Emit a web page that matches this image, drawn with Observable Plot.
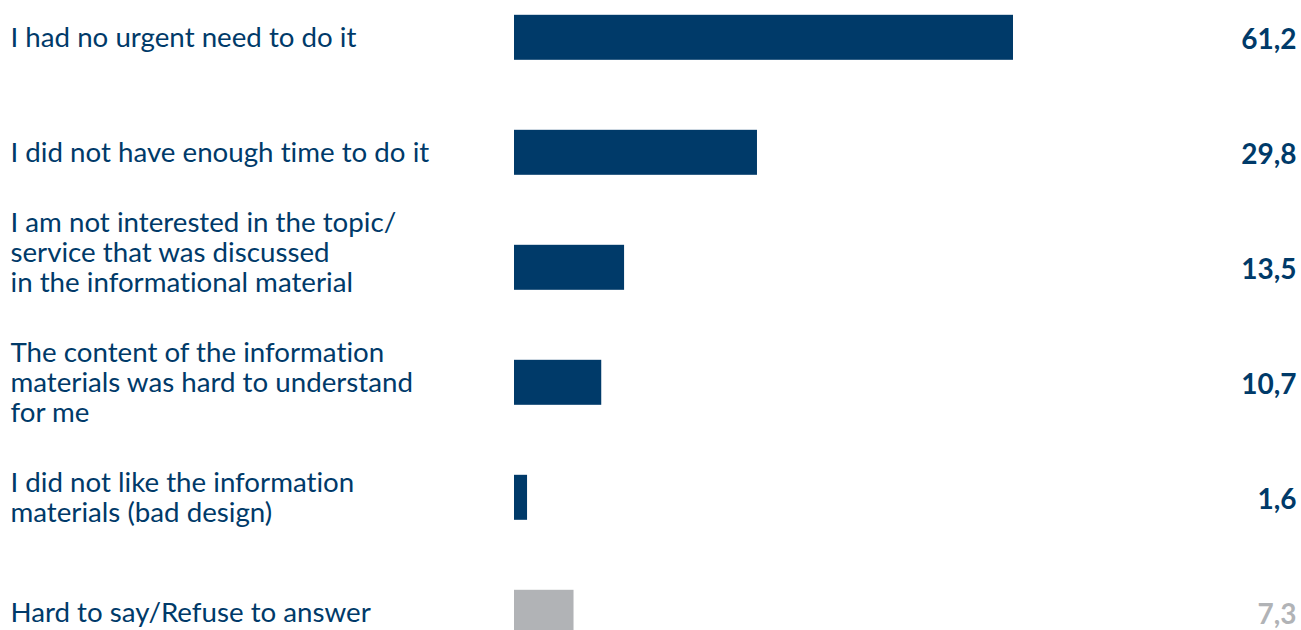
<!DOCTYPE html>
<html>
<head>
<meta charset="utf-8">
<script src="https://cdn.jsdelivr.net/npm/d3@7"></script>
<script src="https://cdn.jsdelivr.net/npm/@observablehq/plot@0.6"></script>
<style>
  html, body { margin: 0; padding: 0; background: #fff; }
  #chart svg { display: block; }
  #chart svg text { font-variant-ligatures: none; font-feature-settings: "liga" 0, "clig" 0; }
</style>
</head>
<body>
<div id="chart"></div>
<script>
const categories = [
  "I had no urgent need to do it",
  "I did not have enough time to do it",
  "I am not interested in the topic/\nservice that was discussed\nin the informational material",
  "The content of the information\nmaterials was hard to understand\nfor me",
  "I did not like the information\nmaterials (bad design)",
  "Hard to say/Refuse to answer"
];
const values = [61.2, 29.8, 13.5, 10.7, 1.6, 7.3];
const groups = ["reason", "reason", "reason", "reason", "reason", "other"];
const valueLabels = ["61,2", "29,8", "13,5", "10,7", "1,6", "7,3"];

const data = categories.map((c, i) => ({cat: c, value: values[i], group: groups[i], label: valueLabels[i], idx: i}));

const BLUE = "#003a69";
const GREY = "#b1b3b6";
const FONT = "Lato, sans-serif";

const plot = Plot.plot({
  width: 1301,
  height: 630,
  marginLeft: 0, marginRight: 0, marginTop: 0, marginBottom: 0,
  style: {fontFamily: FONT, background: "#fff"},
  x: {domain: [0, 61.2], range: [514, 1013], axis: null},
  y: {domain: categories, range: [-55.2, 704.8], paddingInner: 0.6087, paddingOuter: 0.6087, round: false, axis: null},
  color: {domain: ["reason", "other"], range: [BLUE, GREY]},
  marks: [
    Plot.barX(data, {y: "cat", x: "value", fill: "group"}),
    Plot.text(data.filter(d => d.idx !== 2), {
      y: "cat", text: "cat", frameAnchor: "left", dx: 10, textAnchor: "start",
      fill: BLUE, fontSize: 27.7, lineHeight: 1.083
    }),
    Plot.text(data.filter(d => d.idx === 2), {
      y: "cat", text: "cat", frameAnchor: "left", dx: 10, dy: -15, textAnchor: "start",
      fill: BLUE, fontSize: 27.7, lineHeight: 1.083
    }),
    Plot.text(data, {
      y: "cat", text: "label", frameAnchor: "right", dx: -5, dy: 2, textAnchor: "end",
      fill: d => d.group === "other" ? GREY : BLUE, fontSize: 28, fontWeight: "bold"
    })
  ]
});
document.getElementById("chart").appendChild(plot);
</script>
</body>
</html>
